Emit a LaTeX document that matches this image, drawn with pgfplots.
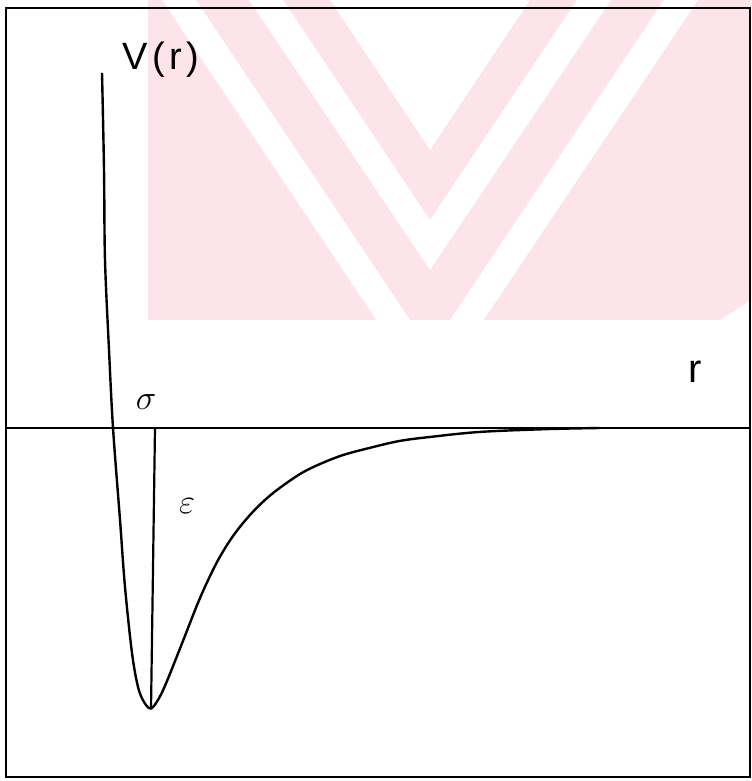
\documentclass[border=0pt]{standalone}
\usepackage{fontspec}
\setmainfont{Liberation Sans}
\usepackage{pgfplots}
\pgfplotsset{compat=1.18}
\definecolor{wmpink}{RGB}{252,228,234}

\begin{document}
\begin{tikzpicture}
% page layer in 0.5pt units, origin at the top-left corner, y downwards
\begin{scope}[shift={(-3pt,388.5pt)},x=0.5pt,y=-0.5pt]
  \useasboundingbox (0,0) rectangle (751,781);
  % background emblem
  \begin{scope}
    \clip (148,0) -- (751,0) -- (751,300) -- (720,320) -- (148,320) -- cycle;
    \fill[wmpink] (0,0) rectangle (751,330);
    \fill[white] (330,0) -- (530,0) -- (430,150) -- cycle;
    \fill[white] (249,0) -- (430,270) -- (611,0) -- (577,0) -- (430,220) -- (283,0) -- cycle;
    \fill[white] (162,0) -- (430,400) -- (698,0) -- (664,0) -- (430,350) -- (196,0) -- cycle;
  \end{scope}
  \node[font=\fontsize{19}{19}\selectfont\addfontfeature{LetterSpace=12}] at (161,60) {V(r)};
  \node[font=\fontsize{20}{20}\selectfont] at (695,372) {r};
  \node[font=\fontsize{17}{17}\selectfont] at (146,402) {$\sigma$};
  \node[font=\fontsize{17}{17}\selectfont] at (187,506) {$\varepsilon$};
\end{scope}

\begin{axis}[
  at={(0,0)}, anchor=south west,
  scale only axis,
  width=372pt, height=384.5pt,
  xmin=0.6635, xmax=3.003,
  ymin=-1.2442, ymax=1.4973,
  ticks=none,
  axis line style={line width=1pt},
  clip=false,
]
  % r axis
  \addplot[black, line width=1pt] coordinates {(0.6635,0) (3.003,0)};
  % well depth epsilon at the minimum
  \addplot[black, line width=1.1pt] coordinates {(1.132,0) (1.1195,-1)};
  % potential V(r)
  \addplot[black, line width=1.2pt, smooth, tension=0.55] coordinates {
    (0.9654,1.266) (0.9717,0.920) (0.9748,0.599) (0.9874,0.278)
    (1.0000,0) (1.0220,-0.328) (1.0377,-0.567) (1.0597,-0.802)
    (1.0786,-0.923) (1.0975,-0.977) (1.1195,-1) (1.1447,-0.963)
    (1.1698,-0.902) (1.2201,-0.759) (1.2736,-0.606) (1.3270,-0.478)
    (1.3774,-0.385) (1.4308,-0.310) (1.4843,-0.250) (1.5409,-0.200)
    (1.6101,-0.150) (1.7138,-0.100) (1.8176,-0.068) (1.9025,-0.046)
    (1.9969,-0.032) (2.1541,-0.014) (2.3648,-0.004) (2.5314,0)
  };
\end{axis}
\end{tikzpicture}
\end{document}
